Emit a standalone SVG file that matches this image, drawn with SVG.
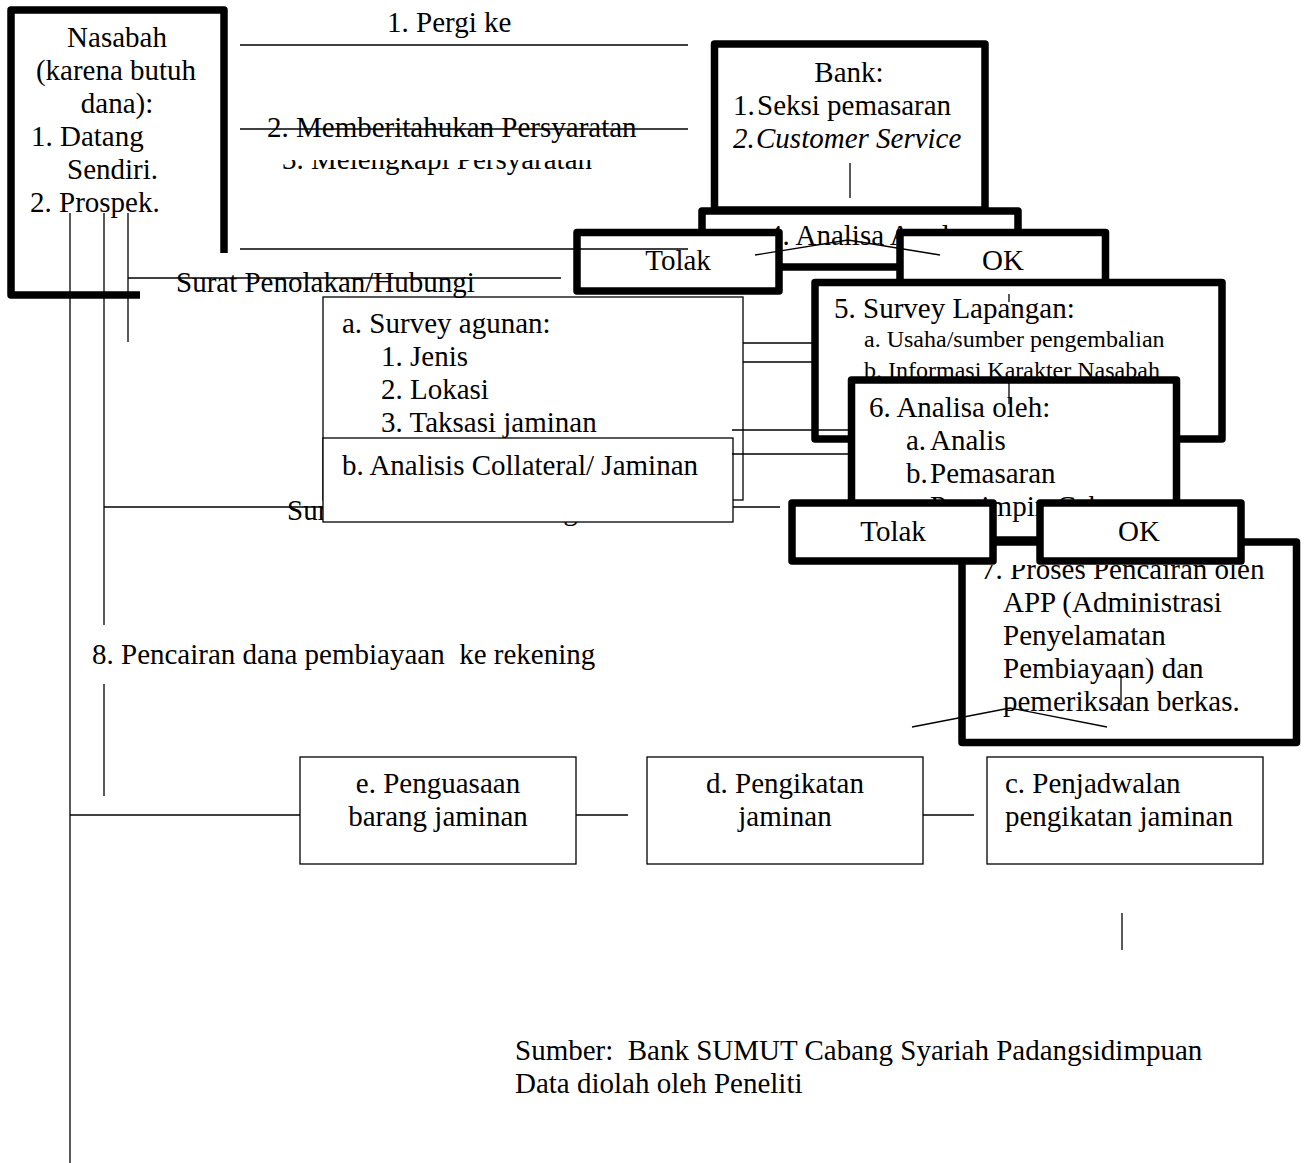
<svg xmlns="http://www.w3.org/2000/svg" width="1305" height="1163" viewBox="0 0 1305 1163">
<style>
.t{font-family:"Liberation Serif","Times New Roman",serif;font-size:29px;fill:#000}
.s{font-size:24px}
.i{font-style:italic}
.m{text-anchor:middle}
.thick{fill:#fff;stroke:#000;stroke-width:7.5;stroke-linejoin:round}
.open{fill:none;stroke:#000;stroke-width:7.5;stroke-linejoin:round}
.thin{fill:#fff;stroke:#000;stroke-width:1.3}
#connectors line,#connectors polyline{stroke:#000;stroke-width:1.3;fill:none}
</style>
<defs>
<clipPath id="clip3"><rect x="250" y="160" width="420" height="30"/></clipPath>
<clipPath id="clip7"><rect x="960" y="565" width="340" height="30"/></clipPath>
</defs>
<rect width="1305" height="1163" fill="#fff"/>

<g id="label-3"><text class="t" x="282" y="169" clip-path="url(#clip3)">3. Melengkapi Persyaratan</text></g>
<g id="label-surat-2"><text class="t" x="287" y="520">Surat Penolakan/Hubungi</text></g>

<g id="nasabah">
<path class="open" d="M224,253 V10 H11 V295 H140"/>
<text class="t m" x="117" y="47">Nasabah</text>
<text class="t m" x="116" y="80">(karena butuh</text>
<text class="t m" x="117" y="113">dana):</text>
<text class="t" x="31" y="146">1. Datang</text>
<text class="t" x="67" y="179">Sendiri.</text>
<text class="t" x="30" y="212">2. Prospek.</text>
</g>

<g id="bank">
<rect class="thick" x="714.5" y="44" width="270.5" height="166"/>
<text class="t m" x="849" y="82">Bank:</text>
<text class="t" x="733" y="115">1.</text><text class="t" x="757" y="115">Seksi pemasaran</text>
<text class="t i" x="733" y="148">2.</text><text class="t i" x="756" y="148">Customer Service</text>
</g>

<g id="analisa-awal">
<rect class="thick" x="702" y="211" width="316" height="56"/>
<text class="t m" x="859" y="245">4. Analisa Awal</text>
</g>

<g id="tolak-1">
<rect class="thick" x="577" y="232.5" width="202" height="58.5"/>
<text class="t m" x="678" y="270">Tolak</text>
</g>
<g id="ok-1">
<rect class="thick" x="900" y="232.5" width="205.5" height="58.5"/>
<text class="t m" x="1003" y="270">OK</text>
</g>

<g id="survey-lapangan">
<rect class="thick" x="815" y="282.5" width="407" height="156.5"/>
<text class="t" x="834" y="318">5. Survey Lapangan:</text>
<text class="t s" x="864" y="347">a. Usaha/sumber pengembalian</text>
<text class="t s" x="864" y="378">b. Informasi Karakter Nasabah</text>
</g>

<g id="analisa-oleh">
<rect class="thick" x="851.5" y="380" width="325" height="160"/>
<text class="t" x="869" y="417">6. Analisa oleh:</text>
<text class="t" x="906" y="450">a.</text><text class="t" x="930" y="450">Analis</text>
<text class="t" x="906" y="483">b.</text><text class="t" x="930" y="483">Pemasaran</text>
<text class="t" x="906" y="516">c.</text><text class="t" x="930" y="516">Pemimpin Cabang</text>
</g>

<g id="proses-pencairan">
<rect class="thick" x="962" y="542" width="334.5" height="200.5"/>
<text class="t" x="981" y="579" clip-path="url(#clip7)">7. Proses Pencairan oleh</text>
<text class="t" x="1003" y="612">APP (Administrasi</text>
<text class="t" x="1003" y="645">Penyelamatan</text>
<text class="t" x="1003" y="678">Pembiayaan) dan</text>
<text class="t" x="1003" y="711">pemeriksaan berkas.</text>
</g>

<g id="tolak-2">
<rect class="thick" x="792" y="503" width="201" height="58"/>
<text class="t m" x="893" y="541">Tolak</text>
</g>
<g id="ok-2">
<rect class="thick" x="1040" y="503" width="201" height="58"/>
<text class="t m" x="1139" y="541">OK</text>
</g>

<g id="survey-agunan">
<rect class="thin" x="323" y="297" width="420" height="203"/>
<text class="t" x="342" y="333">a. Survey agunan:</text>
<text class="t" x="381" y="366">1. Jenis</text>
<text class="t" x="381" y="399">2. Lokasi</text>
<text class="t" x="381" y="432">3. Taksasi jaminan</text>
</g>
<g id="analisis-collateral">
<rect class="thin" x="323" y="438" width="410" height="84"/>
<text class="t" x="342" y="475">b. Analisis Collateral/ Jaminan</text>
</g>

<g id="penguasaan">
<rect class="thin" x="300" y="757" width="276" height="107"/>
<text class="t m" x="438" y="793">e. Penguasaan</text>
<text class="t m" x="438" y="826">barang jaminan</text>
</g>
<g id="pengikatan">
<rect class="thin" x="647" y="757" width="276" height="107"/>
<text class="t m" x="785" y="793">d. Pengikatan</text>
<text class="t m" x="785" y="826">jaminan</text>
</g>
<g id="penjadwalan">
<rect class="thin" x="987" y="757" width="276" height="107"/>
<text class="t" x="1005" y="793">c. Penjadwalan</text>
<text class="t" x="1005" y="826">pengikatan jaminan</text>
</g>

<g id="labels">
<text class="t" x="387" y="32">1. Pergi ke</text>
<text class="t" x="267" y="137">2. Memberitahukan Persyaratan</text>
<text class="t" x="176" y="292">Surat Penolakan/Hubungi</text>
<text class="t" x="92" y="664" xml:space="preserve">8. Pencairan dana pembiayaan  ke rekening</text>
<text class="t" x="515" y="1060" xml:space="preserve">Sumber:  Bank SUMUT Cabang Syariah Padangsidimpuan</text>
<text class="t" x="515" y="1093">Data diolah oleh Peneliti</text>
</g>

<g id="connectors">
<line x1="240" y1="45" x2="688" y2="45"/>
<line x1="240" y1="129" x2="688" y2="129"/>
<line x1="240" y1="249" x2="688" y2="249"/>
<line x1="128" y1="278" x2="561" y2="278"/>
<line x1="70" y1="213" x2="70" y2="1163"/>
<line x1="104" y1="213" x2="104" y2="625"/>
<line x1="104" y1="684" x2="104" y2="796"/>
<line x1="128" y1="213" x2="128" y2="342"/>
<line x1="104" y1="507" x2="323" y2="507"/>
<line x1="733" y1="507" x2="780" y2="507"/>
<line x1="743" y1="343" x2="812" y2="343"/>
<line x1="743" y1="362" x2="812" y2="362"/>
<line x1="732" y1="430" x2="848" y2="430"/>
<line x1="732" y1="454" x2="848" y2="454"/>
<line x1="850" y1="163" x2="850" y2="198"/>
<polyline points="755,255 848,240 940,255"/>
<line x1="1009" y1="294" x2="1009" y2="302"/>
<line x1="1009" y1="381" x2="1009" y2="404"/>
<line x1="1121" y1="675" x2="1121" y2="705"/>
<polyline points="912,727 1010,708 1107,727"/>
<line x1="70" y1="815" x2="300" y2="815"/>
<line x1="576" y1="815" x2="628" y2="815"/>
<line x1="923" y1="815" x2="974" y2="815"/>
<line x1="1122" y1="913" x2="1122" y2="950"/>
</g>
</svg>
